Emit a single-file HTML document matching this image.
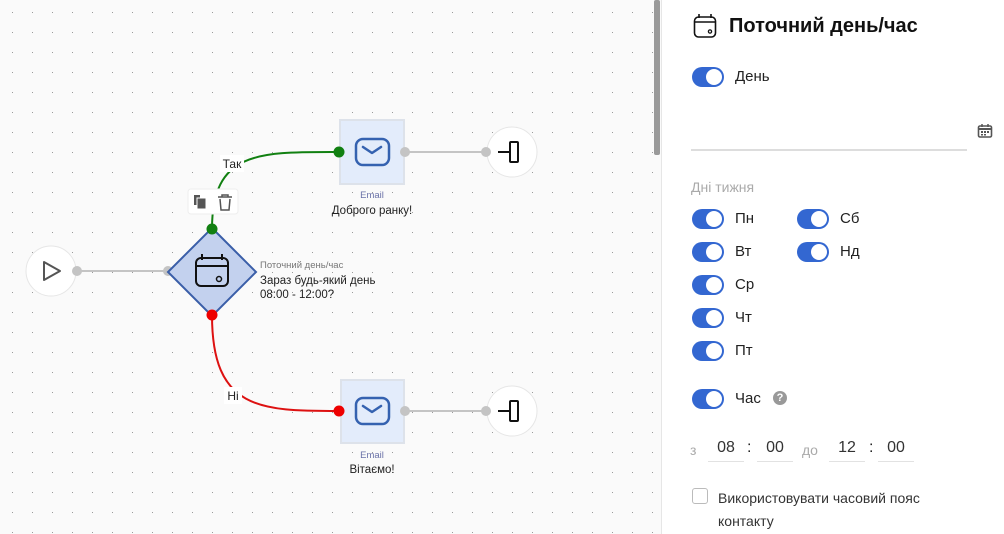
<!DOCTYPE html>
<html><head><meta charset="utf-8"><style>
html,body{margin:0;padding:0;width:1004px;height:534px;overflow:hidden;background:#fafafa;font-family:"Liberation Sans",Arial,sans-serif}
svg text{font-family:"Liberation Sans",Arial,sans-serif}
#panel{position:absolute;left:661px;top:0;width:343px;height:534px;background:#fff;border-left:1px solid #e6e6e6}
.t{position:absolute;font-size:15px;color:#222}
.tg{position:absolute;width:32px;height:20px;border-radius:10px;background:#3367d1}
.tg:after{content:"";position:absolute;right:2px;top:2px;width:16px;height:16px;border-radius:50%;background:#fff}
.f{position:absolute;width:36px;text-align:center;font-size:16px;color:#333;border-bottom:1px solid #e2e2e2;height:24px;line-height:22px}
</style></head><body>
<svg width="660" height="534" style="position:absolute;left:0;top:0">
<defs><pattern id="d" x="0" y="0" width="20" height="20" patternUnits="userSpaceOnUse"><rect x="12" y="12" width="1" height="1" fill="#9a9a9a"/></pattern></defs>
<rect width="660" height="534" fill="#fafafa"/>
<rect width="660" height="534" fill="url(#d)"/>
<rect x="654" y="0" width="6" height="155" fill="#9a9a9a" rx="2"/>
<!-- lines -->
<line x1="77" y1="271" x2="168" y2="271" stroke="#c4c4c4" stroke-width="2"/>
<path d="M212 229 C212 150 260 152 339 152" stroke="#118011" stroke-width="2" fill="none"/>
<path d="M212 315 C212 410 260 411 339 411" stroke="#d11" stroke-width="2" fill="none"/>
<line x1="405" y1="152" x2="486" y2="152" stroke="#c4c4c4" stroke-width="2"/>
<line x1="405" y1="411" x2="486" y2="411" stroke="#c4c4c4" stroke-width="2"/>
<!-- start -->
<circle cx="51" cy="271" r="25" fill="#fff" stroke="#e6e6e6"/>
<path d="M44 262 L60 271 L44 280 Z" fill="none" stroke="#555" stroke-width="2" stroke-linejoin="round"/>
<circle cx="77" cy="271" r="5" fill="#c4c4c4"/>
<circle cx="168" cy="271" r="5" fill="#c4c4c4"/>
<!-- diamond -->
<path d="M212 228 L256 272 L212 316 L168 272 Z" fill="#c3d1ee" stroke="#3a5ea8" stroke-width="2"/>
<rect x="196" y="258" width="32" height="28" rx="5" fill="none" stroke="#111" stroke-width="2"/>
<line x1="196" y1="266" x2="228" y2="266" stroke="#111" stroke-width="2"/>
<line x1="202" y1="254" x2="202" y2="260" stroke="#111" stroke-width="2"/>
<line x1="222" y1="254" x2="222" y2="260" stroke="#111" stroke-width="2"/>
<circle cx="219" cy="279" r="2.5" fill="none" stroke="#111" stroke-width="1.5"/>
<circle cx="212" cy="229" r="5.5" fill="#118011"/>
<circle cx="212" cy="315" r="5.5" fill="#e00"/>
<text x="260" y="268" font-size="9.5" fill="#777">Поточний день/час</text>
<text x="260" y="284" font-size="11.5" fill="#222">Зараз будь-який день</text>
<text x="260" y="298" font-size="11.5" fill="#222">08:00 - 12:00?</text>
<!-- toolbar -->
<rect x="188" y="189" width="50" height="25" rx="3" fill="#fff" stroke="#eee"/>
<rect x="194" y="195" width="6" height="10" fill="#555"/><rect x="197" y="198" width="9" height="11" fill="#555" stroke="#fff"/>
<path d="M218 197 h14 M222 197 v-2 h6 v2 M220 199 l1 11 h8 l1 -11" fill="none" stroke="#555" stroke-width="1.5"/>
<!-- labels -->
<rect x="220" y="155" width="24" height="17" fill="#fff"/>
<text x="232" y="168" font-size="12" fill="#222" text-anchor="middle">Так</text>
<rect x="224" y="387" width="18" height="17" fill="#fff"/>
<text x="233" y="400" font-size="12" fill="#222" text-anchor="middle">Ні</text>
<!-- email 1 -->
<rect x="340" y="120" width="64" height="64" fill="#e3ecfb" stroke="#dde2ea" stroke-width="2"/>
<rect x="356" y="139" width="33" height="26" rx="7" fill="none" stroke="#3562b0" stroke-width="2.5"/>
<path d="M363 147 l9 6 l9 -6" fill="none" stroke="#3562b0" stroke-width="2.5" stroke-linecap="round" stroke-linejoin="round"/>
<circle cx="339" cy="152" r="5.5" fill="#118011"/>
<circle cx="405" cy="152" r="5" fill="#c4c4c4"/>
<text x="372" y="198" font-size="9.5" fill="#6a72a8" text-anchor="middle">Email</text>
<text x="372" y="214" font-size="11.5" fill="#222" text-anchor="middle">Доброго ранку!</text>
<!-- email 2 -->
<rect x="341" y="380" width="63" height="63" fill="#e3ecfb" stroke="#dde2ea" stroke-width="2"/>
<rect x="356" y="398" width="33" height="26" rx="7" fill="none" stroke="#3562b0" stroke-width="2.5"/>
<path d="M363 406 l9 6 l9 -6" fill="none" stroke="#3562b0" stroke-width="2.5" stroke-linecap="round" stroke-linejoin="round"/>
<circle cx="339" cy="411" r="5.5" fill="#e00"/>
<circle cx="405" cy="411" r="5" fill="#c4c4c4"/>
<text x="372" y="458" font-size="9.5" fill="#6a72a8" text-anchor="middle">Email</text>
<text x="372" y="473" font-size="11.5" fill="#222" text-anchor="middle">Вітаємо!</text>
<!-- ends -->
<g><circle cx="512" cy="152" r="25" fill="#fff" stroke="#e6e6e6"/>
<line x1="498" y1="152" x2="509" y2="152" stroke="#111" stroke-width="2"/><rect x="510" y="142" width="8" height="20" rx="1" fill="none" stroke="#111" stroke-width="2"/>
<circle cx="486" cy="152" r="5" fill="#c4c4c4"/></g>
<g><circle cx="512" cy="411" r="25" fill="#fff" stroke="#e6e6e6"/>
<line x1="498" y1="411" x2="509" y2="411" stroke="#111" stroke-width="2"/><rect x="510" y="401" width="8" height="20" rx="1" fill="none" stroke="#111" stroke-width="2"/>
<circle cx="486" cy="411" r="5" fill="#c4c4c4"/></g>
</svg>
<div id="panel"></div>
<svg width="24" height="26" style="position:absolute;left:693px;top:13px"><rect x="1.5" y="4" width="21" height="20" rx="4" fill="none" stroke="#111" stroke-width="1.6"/><line x1="1.5" y1="9" x2="22.5" y2="9" stroke="#111" stroke-width="1.6"/><line x1="6" y1="1" x2="6" y2="5" stroke="#111" stroke-width="1.6"/><line x1="18" y1="1" x2="18" y2="5" stroke="#111" stroke-width="1.6"/><circle cx="17" cy="18.5" r="1.6" fill="none" stroke="#111" stroke-width="1.3"/></svg>
<div class="t" style="left:729px;top:15px;font-size:20px;font-weight:bold;color:#111">Поточний день/час</div>
<div class="tg" style="left:692px;top:67px"></div><div class="t" style="left:735px;top:68px">День</div>
<div style="position:absolute;left:691px;top:149px;width:276px;height:2px;background:#ddd"></div>
<svg width="16" height="16" style="position:absolute;left:977px;top:123px"><rect x="1.5" y="3" width="13" height="11" rx="1.5" fill="none" stroke="#555" stroke-width="1.6"/><line x1="1.5" y1="6" x2="14.5" y2="6" stroke="#555" stroke-width="2"/><line x1="5" y1="1" x2="5" y2="4" stroke="#555" stroke-width="1.5"/><line x1="11" y1="1" x2="11" y2="4" stroke="#555" stroke-width="1.5"/><rect x="4" y="8" width="2" height="2" fill="#555"/><rect x="7" y="8" width="2" height="2" fill="#555"/><rect x="10" y="8" width="2" height="2" fill="#555"/><rect x="4" y="11" width="2" height="1.5" fill="#555"/><rect x="7" y="11" width="2" height="1.5" fill="#555"/></svg>
<div class="t" style="left:691px;top:179px;font-size:14px;color:#aaa">Дні тижня</div>
<div class="tg" style="left:692px;top:209px"></div><div class="t" style="left:735px;top:210px">Пн</div>
<div class="tg" style="left:797px;top:209px"></div><div class="t" style="left:840px;top:210px">Сб</div>
<div class="tg" style="left:692px;top:242px"></div><div class="t" style="left:735px;top:243px">Вт</div>
<div class="tg" style="left:797px;top:242px"></div><div class="t" style="left:840px;top:243px">Нд</div>
<div class="tg" style="left:692px;top:275px"></div><div class="t" style="left:735px;top:276px">Ср</div>
<div class="tg" style="left:692px;top:308px"></div><div class="t" style="left:735px;top:309px">Чт</div>
<div class="tg" style="left:692px;top:341px"></div><div class="t" style="left:735px;top:342px">Пт</div>
<div class="tg" style="left:692px;top:389px"></div><div class="t" style="left:735px;top:390px">Час</div>
<div style="position:absolute;left:773px;top:391px;width:14px;height:14px;border-radius:50%;background:#999;color:#fff;font-size:11px;font-weight:bold;text-align:center;line-height:14px">?</div>
<div class="t" style="left:690px;top:442px;color:#aaa;font-size:14px">з</div>
<div class="f" style="left:708px;top:437px">08</div>
<div class="t" style="left:747px;top:439px;font-size:16px">:</div>
<div class="f" style="left:757px;top:437px">00</div>
<div class="t" style="left:802px;top:442px;color:#aaa;font-size:14px">до</div>
<div class="f" style="left:829px;top:437px">12</div>
<div class="t" style="left:869px;top:439px;font-size:16px">:</div>
<div class="f" style="left:878px;top:437px">00</div>
<div style="position:absolute;left:692px;top:488px;width:14px;height:14px;border:1px solid #bbb;border-radius:3px"></div>
<div class="t" style="left:718px;top:487px;font-size:14px;line-height:23px;color:#333">Використовувати часовий пояс<br>контакту</div>
</body></html>
